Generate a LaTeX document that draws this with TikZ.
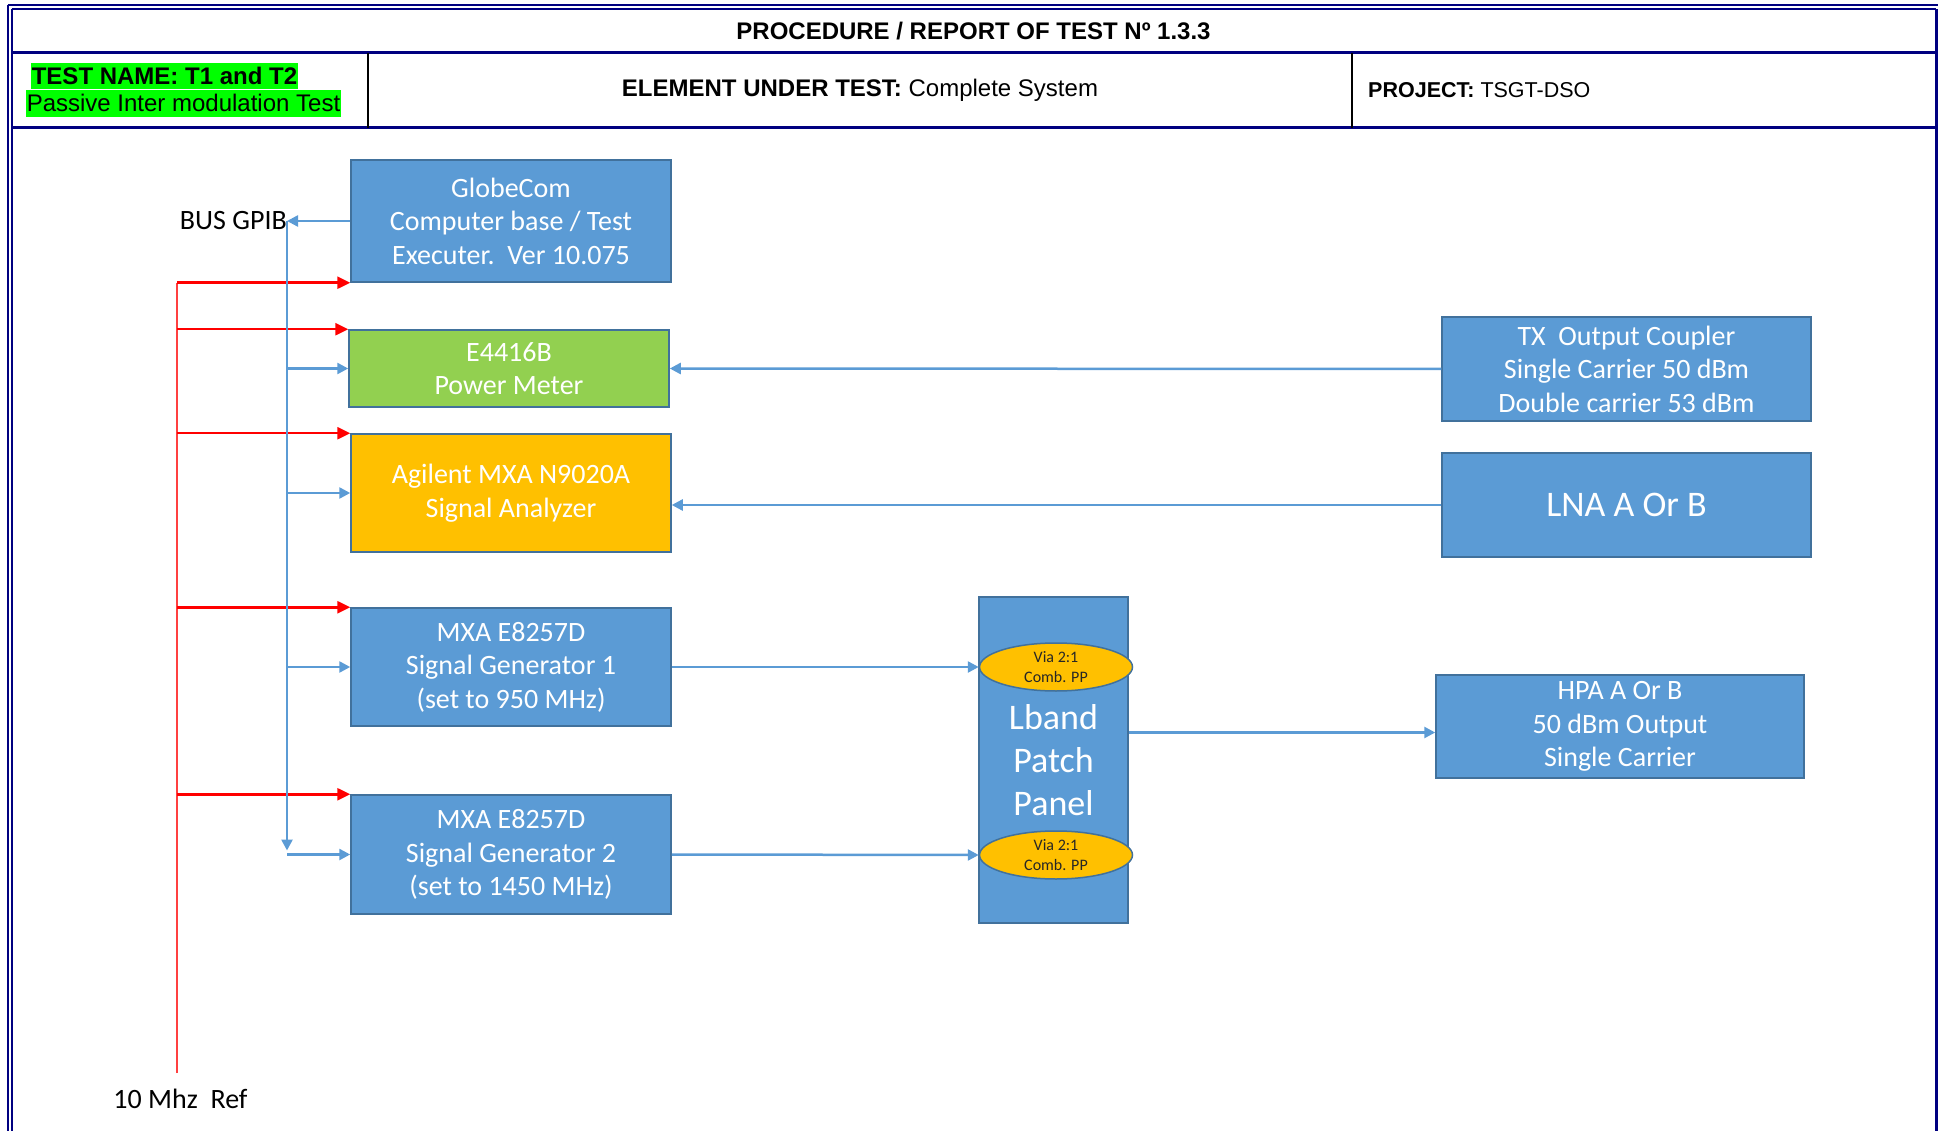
\documentclass[tikz,border=0pt]{standalone}
\usepackage{fontspec}
\setmainfont{Liberation Sans}
\newfontfamily\calibri{Carlito}
\usepackage{tikz}
\usetikzlibrary{arrows.meta, shapes.geometric}

\definecolor{navy}{HTML}{000080}
\definecolor{boxblue}{HTML}{5B9BD5}
\definecolor{boxedge}{HTML}{41719C}
\definecolor{pmgreen}{HTML}{92D050}
\definecolor{amber}{HTML}{FFC000}
\definecolor{hlgreen}{HTML}{00FF00}

\begin{document}
\begin{tikzpicture}[x=1pt,y=-1pt,line join=miter]
   \tikzstyle{hdr}=[font=\fontsize{24}{28}\selectfont,inner sep=0pt]
   \tikzstyle{hl}=[hdr,fill=hlgreen,inner xsep=1pt,text height=21.7pt,text depth=5.1pt]
   \tikzstyle{rule}=[navy,line width=3pt]
   \tikzstyle{blk}=[draw=boxedge,line width=1.5pt,fill=boxblue,text=white,align=center,
                    font=\calibri\fontsize{28}{33.5}\selectfont,inner sep=0pt]
   \tikzstyle{dev}=[blk,minimum width=320pt,minimum height=118pt]
   \tikzstyle{far}=[blk,minimum width=369pt,minimum height=104pt]
   \tikzstyle{big}=[font=\calibri\fontsize{36}{43}\selectfont]
   \tikzstyle{via}=[ellipse,draw=boxedge,line width=1.5pt,fill=amber,minimum width=153pt,
                    minimum height=48pt,inner sep=0pt]
   \tikzstyle{vtext}=[align=center,text=black!85,inner sep=0pt,
                      font=\calibri\fontsize{16}{19.5}\selectfont]
   \tikzstyle{lbl}=[font=\calibri\fontsize{28}{33.5}\selectfont,inner sep=0pt]
   \tikzstyle{gpib}=[->,>={Triangle[length=11pt,width=11pt]},boxblue,line width=2.5pt]
   \tikzstyle{refarr}=[->,>={Triangle[length=13pt,width=12pt]},red,line width=2.5pt]
   \tikzstyle{refline}=[red!75,line width=2pt]

   \useasboundingbox (0,0) rectangle (1939,1131);

   \draw[navy,line width=2pt] (7.5,5) -- (1938,5)
                              (7.5,5) -- (7.5,1131);
   \draw[navy,line width=2pt] (11.5,9) -- (1936,9)
                              (11.5,9) -- (11.5,1131);
   \draw[navy,line width=3pt] (1936,9) -- (1936,1131);
   \draw[rule] (11.5,53) -- (1936,53);
   \draw[rule] (11.5,128) -- (1936,128);
   \draw[black,line width=2pt] (368,53) -- (368,128)
                               (1352,53) -- (1352,128);

   \node[hdr]  (TTL) at (973.5,31.5) {\bfseries PROCEDURE / REPORT OF TEST Nº 1.3.3};
   \node[hl]   (TN)  at (164.5,76)   {\bfseries TEST NAME: T1 and T2};
   \node[hl]   (PIM) at (183.5,103.5) {Passive Inter modulation Test};
   \node[hdr]  (EUT) at (860,90.5)   {\textbf{ELEMENT UNDER TEST:} Complete System};
   \node[hdr,anchor=west,font=\fontsize{21.5}{26}\selectfont]
               (PRJ) at (1368,90.5)  {\textbf{PROJECT:} TSGT-DSO};

   \node[dev,minimum height=122pt]        (GC)  at (511,221)   {GlobeCom\\Computer base / Test\\Executer.\ \ Ver 10.075};
   \node[dev,minimum height=77pt,fill=pmgreen] (PM) at (509,368.5) {E4416B\\Power Meter};
   \node[dev,fill=amber]                  (SA)  at (511,493)   {Agilent MXA N9020A\\Signal Analyzer};
   \node[dev]                             (SG1) at (511,667)   {MXA E8257D\\Signal Generator 1\\(set to 950 MHz)};
   \node[dev,minimum height=119pt]        (SG2) [below of=SG1,node distance=187.5pt] {MXA E8257D\\Signal Generator 2\\(set to 1450 MHz)};

   \node[far]                             (TX)  at (1626.5,369) {TX\ \ Output Coupler\\Single Carrier 50 dBm\\Double carrier 53 dBm};
   \node[far,big]                         (LNA) [below of=TX,node distance=136pt] {LNA A Or B};
   \node[far,minimum width=368pt,minimum height=103pt]
                                          (HPA) at (1620,726.5) {HPA A Or B\\50 dBm Output\\Single Carrier};

   \node[blk,big,minimum width=149pt,minimum height=326pt] (PP) at (1053.5,760) {Lband\\Patch\\Panel};
   \node[via] (E1) at (1056,667) {};
   \node[via] (E2) at (1056,855) {};
   \node[vtext] at (E1) {Via 2:1\\Comb. PP};
   \node[vtext] at (E2) {Via 2:1\\Comb. PP};

   \coordinate (BUS) at (287,221);
   \node[lbl,left] (GPIB) at (BUS) {BUS GPIB};
   \coordinate (REF) at (177,1073);
   \node[lbl] (TEN) at (180.5,1099) {10 Mhz\ \ Ref};

   \draw[refline] (REF) -- (REF |- GC.south west);
   \path[refarr] (REF |- GC.south west)  edge (GC.south west)
                 (REF |- PM.north west)  edge (PM.north west)
                 (REF |- SA.north west)  edge (SA.north west)
                 (REF |- SG1.north west) edge (SG1.north west)
                 (REF |- SG2.north west) edge (SG2.north west);

   \draw[gpib] (BUS) -- ([yshift=4pt]BUS |- SG2.west);
   \path[gpib] (GC.west)             edge (BUS)
               (BUS |- PM.west)      edge (PM.west)
               (BUS |- SA.west)      edge (SA.west)
               (BUS |- SG1.west)     edge (SG1.west)
               (BUS |- SG2.west)     edge (SG2.west)
               (TX.west)             edge (PM.east)
               (LNA.west)            edge (LNA.west -| SA.east)
               (SG1.east)            edge (E1.west)
               (SG2.east)            edge (E2.west)
               ([yshift=-6pt]HPA.west -| PP.east) edge ([yshift=-6pt]HPA.west);
\end{tikzpicture}
\end{document}
